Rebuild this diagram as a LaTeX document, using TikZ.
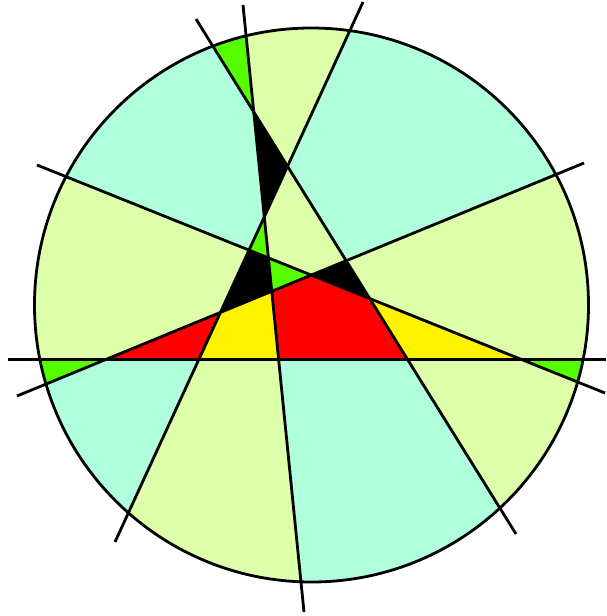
\documentclass[tikz,border=0pt]{standalone}
\usetikzlibrary{calc}
\definecolor{paleleaf}{HTML}{DDFFAA}
\definecolor{paleaqua}{HTML}{AFFFDC}
\definecolor{brightleaf}{HTML}{55FF00}

% one side of a cut line, as a long parallelogram
\newcommand{\sideof}[3]{($(#1)!-2!(#2)$) -- ($(#2)!-2!(#1)$) -- ($(#2)!-2!(#1)+(#3)$) -- ($(#1)!-2!(#2)+(#3)$) -- cycle}

\begin{document}
\begin{tikzpicture}[x=1pt, y=-1pt,
    cut/.style={line width=2.8pt},
    checker/.style={fill=paleaqua, even odd rule}]
  \useasboundingbox (0,0) rectangle (606,616);

  % End points of the six cut lines
  \coordinate (A1) at (8,359.5);   \coordinate (A2) at (606,359.5);
  \coordinate (B1) at (243,5);     \coordinate (B2) at (304,612);
  \coordinate (C1) at (363,2);     \coordinate (C2) at (115,542);
  \coordinate (D1) at (196,19);    \coordinate (D2) at (516,534);
  \coordinate (E1) at (37,165);    \coordinate (E2) at (605,393);
  \coordinate (F1) at (17,396);    \coordinate (F2) at (584,163);
  \coordinate (O) at (311.5,305);
  \coordinate (corner) at (0,0);

  % Crossings
  \coordinate (BD) at (intersection of B1--B2 and D1--D2);
  \coordinate (CD) at (intersection of C1--C2 and D1--D2);
  \coordinate (BC) at (intersection of B1--B2 and C1--C2);
  \coordinate (CE) at (intersection of C1--C2 and E1--E2);
  \coordinate (BE) at (intersection of B1--B2 and E1--E2);
  \coordinate (BF) at (intersection of B1--B2 and F1--F2);
  \coordinate (CF) at (intersection of C1--C2 and F1--F2);
  \coordinate (EF) at (intersection of E1--E2 and F1--F2);
  \coordinate (DF) at (intersection of D1--D2 and F1--F2);
  \coordinate (DE) at (intersection of D1--D2 and E1--E2);
  \coordinate (AB) at (intersection of A1--A2 and B1--B2);
  \coordinate (AC) at (intersection of A1--A2 and C1--C2);
  \coordinate (AD) at (intersection of A1--A2 and D1--D2);
  \coordinate (AE) at (intersection of A1--A2 and E1--E2);
  \coordinate (AF) at (intersection of A1--A2 and F1--F2);

  \begin{scope}
    \clip (O) circle (277);
    \fill[paleleaf] (O) circle (277);
    % checkerboard of the arrangement
    \fill[checker] \sideof{A1}{A2}{0,1500} \sideof{B1}{B2}{-1500,0}
      \sideof{C1}{C2}{1500,0} \sideof{D1}{D2}{-1500,0}
      \sideof{E1}{E2}{0,1500} \sideof{F1}{F2}{0,1500};
    % the two cells on the left are swapped
    \fill[paleaqua] (E1) -- (CE) -- (BC) -- (BD) -- (D1) -- (corner) -- cycle;
    \fill[paleleaf] (E1) -- (CE) -- (CF) -- (AF) -- (A1) -- cycle;

    % marked cells
    \fill[black] (BD) -- (CD) -- (BC) -- cycle;
    \fill[black] (CE) -- (BE) -- (BF) -- (CF) -- cycle;
    \fill[black] (EF) -- (DF) -- (DE) -- cycle;
    \fill[brightleaf] (BC) -- (CE) -- (BE) -- cycle;
    \fill[brightleaf] (BE) -- (EF) -- (BF) -- cycle;
    \fill[brightleaf] (BD) -- (B1) -- (D1) -- cycle;
    \fill[brightleaf] (AF) -- (A1) -- (F1) -- cycle;
    \fill[brightleaf] (AE) -- (A2) -- (E2) -- cycle;
    \fill[red] (BF) -- (EF) -- (DE) -- (AD) -- (AB) -- cycle;
    \fill[red] (AF) -- (CF) -- (AC) -- cycle;
    \fill[yellow] (CF) -- (BF) -- (AB) -- (AC) -- cycle;
    \fill[yellow] (DE) -- (AE) -- (AD) -- cycle;
  \end{scope}

  \draw[cut] (O) circle (277);
  \foreach \l in {A,B,C,D,E,F}
    \draw[cut] (\l1) -- (\l2);
\end{tikzpicture}
\end{document}
